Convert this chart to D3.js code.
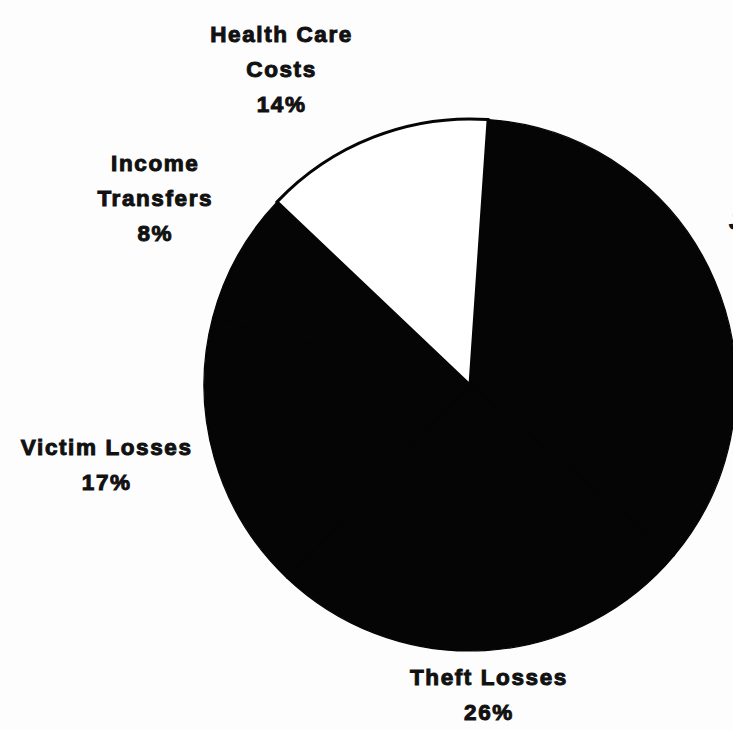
<!DOCTYPE html>
<html>
<head>
<meta charset="utf-8">
<script src="https://cdn.jsdelivr.net/npm/d3@7/dist/d3.min.js"></script>
<style>
  html, body { margin: 0; padding: 0; background: #fdfdfd; overflow: hidden; }
  svg { display: block; }
  text { font-family: "Liberation Sans", Arial, sans-serif; font-weight: bold; fill: #111; stroke: #111; stroke-width: 1px; letter-spacing: 1.6px; }
</style>
</head>
<body>
<svg id="chart" width="733" height="730"></svg>
<script>
// Data (clockwise from the right-hand slice)
const categories = ["Criminal Justice System", "Theft Losses", "Victim Losses", "Income Transfers", "Health Care Costs"];
const labelLines = [["Justice System", "35%"], ["Theft Losses", "26%"], ["Victim Losses", "17%"], ["Income", "Transfers", "8%"], ["Health Care", "Costs", "14%"]];
const values = [35, 26, 17, 8, 14];
const fills = ["#050505", "#050505", "#050505", "#050505", "#ffffff"];

const svg = d3.select("#chart");
const cx = 470, cy = 385, R = 266;
const g = svg.append("g").attr("transform", `translate(${cx},${cy})`);

const deg = Math.PI / 180;
const pie = d3.pie().sort(null).value(d => d).startAngle(3.9 * deg).endAngle(3.9 * deg + 2 * Math.PI);
const arcs = pie(values);
const arc = d3.arc().innerRadius(0).outerRadius(R);

// dark slices first, then the light one with its outline on top
const order = arcs.map((a, i) => i).sort((a, b) => (fills[a] === "#ffffff") - (fills[b] === "#ffffff"));
g.selectAll("path.slice")
  .data(order.map(i => ({ a: arcs[i], i })))
  .join("path")
  .attr("class", "slice")
  .attr("d", d => arc(d.a))
  .attr("fill", d => fills[d.i])
  .attr("stroke", "#050505")
  .attr("stroke-width", d => fills[d.i] === "#ffffff" ? 3 : 1.2);

// label placement: radius and angular nudge per label (layout, not data)
const labelLayout = [
  { r: 380, da: 0 },
  { r: 310, da: -0.2 },
  { r: 372, da: 3.5 },
  { r: 366, da: 1.6 },
  { r: 368, da: -9.5 }
];
const lineH = 35;
const fontSize = 22.5;

arcs.forEach((a, i) => {
  const mid = (a.startAngle + a.endAngle) / 2 + labelLayout[i].da * deg;
  const r = labelLayout[i].r;
  const x = Math.sin(mid) * r;
  const y = -Math.cos(mid) * r;
  const lines = labelLines[i];
  const t = g.append("text")
    .attr("text-anchor", "middle")
    .attr("font-size", fontSize);
  const y0 = y - (lines.length - 1) * lineH / 2 + fontSize * 0.36;
  lines.forEach((ln, j) => {
    t.append("tspan").attr("x", x).attr("y", y0 + j * lineH).text(ln);
  });
  if (i === 0) {
    // this label runs off the right edge in the reference; only its first letter peeks in
    const w = t.select("tspan").node().getComputedTextLength();
    const shift = (733 - 4 - cx) - (x - w / 2);
    t.selectAll("tspan").attr("x", x + shift).attr("y", (d, j) => y0 + 2 + j * lineH);
  }
});
</script>
</body>
</html>
